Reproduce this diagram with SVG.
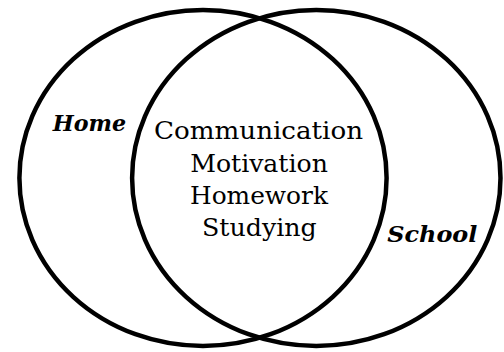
<svg xmlns="http://www.w3.org/2000/svg" width="504" height="352" viewBox="0 0 504 352">
<style>
.ring{fill:none;stroke:#000;stroke-width:4.5}
.lbl{font-family:"DejaVu Serif","Liberation Serif",serif;font-weight:bold;font-style:italic;font-size:23px;fill:#000}
.item{font-family:"DejaVu Serif","Liberation Serif",serif;font-size:24px;fill:#000;text-anchor:middle}
</style>
<rect width="504" height="352" fill="#fff"/>
<g id="home">
<ellipse class="ring" cx="203" cy="178" rx="183.6" ry="168"/>
<text class="lbl" x="52.7" y="131" textLength="73.3" lengthAdjust="spacingAndGlyphs">Home</text>
</g>
<g id="school">
<ellipse class="ring" cx="316.3" cy="178" rx="184.2" ry="168"/>
<text class="lbl" x="387.3" y="242" textLength="90" lengthAdjust="spacingAndGlyphs">School</text>
</g>
<g id="overlap">
<text class="item" x="258.5" y="139" textLength="209" lengthAdjust="spacingAndGlyphs">Communication</text>
<text class="item" x="259" y="171.5" textLength="137.7" lengthAdjust="spacingAndGlyphs">Motivation</text>
<text class="item" x="259" y="204" textLength="138" lengthAdjust="spacingAndGlyphs">Homework</text>
<text class="item" x="259.4" y="236" textLength="114.7" lengthAdjust="spacingAndGlyphs">Studying</text>
</g>
<g id="connectors"/>
</svg>
